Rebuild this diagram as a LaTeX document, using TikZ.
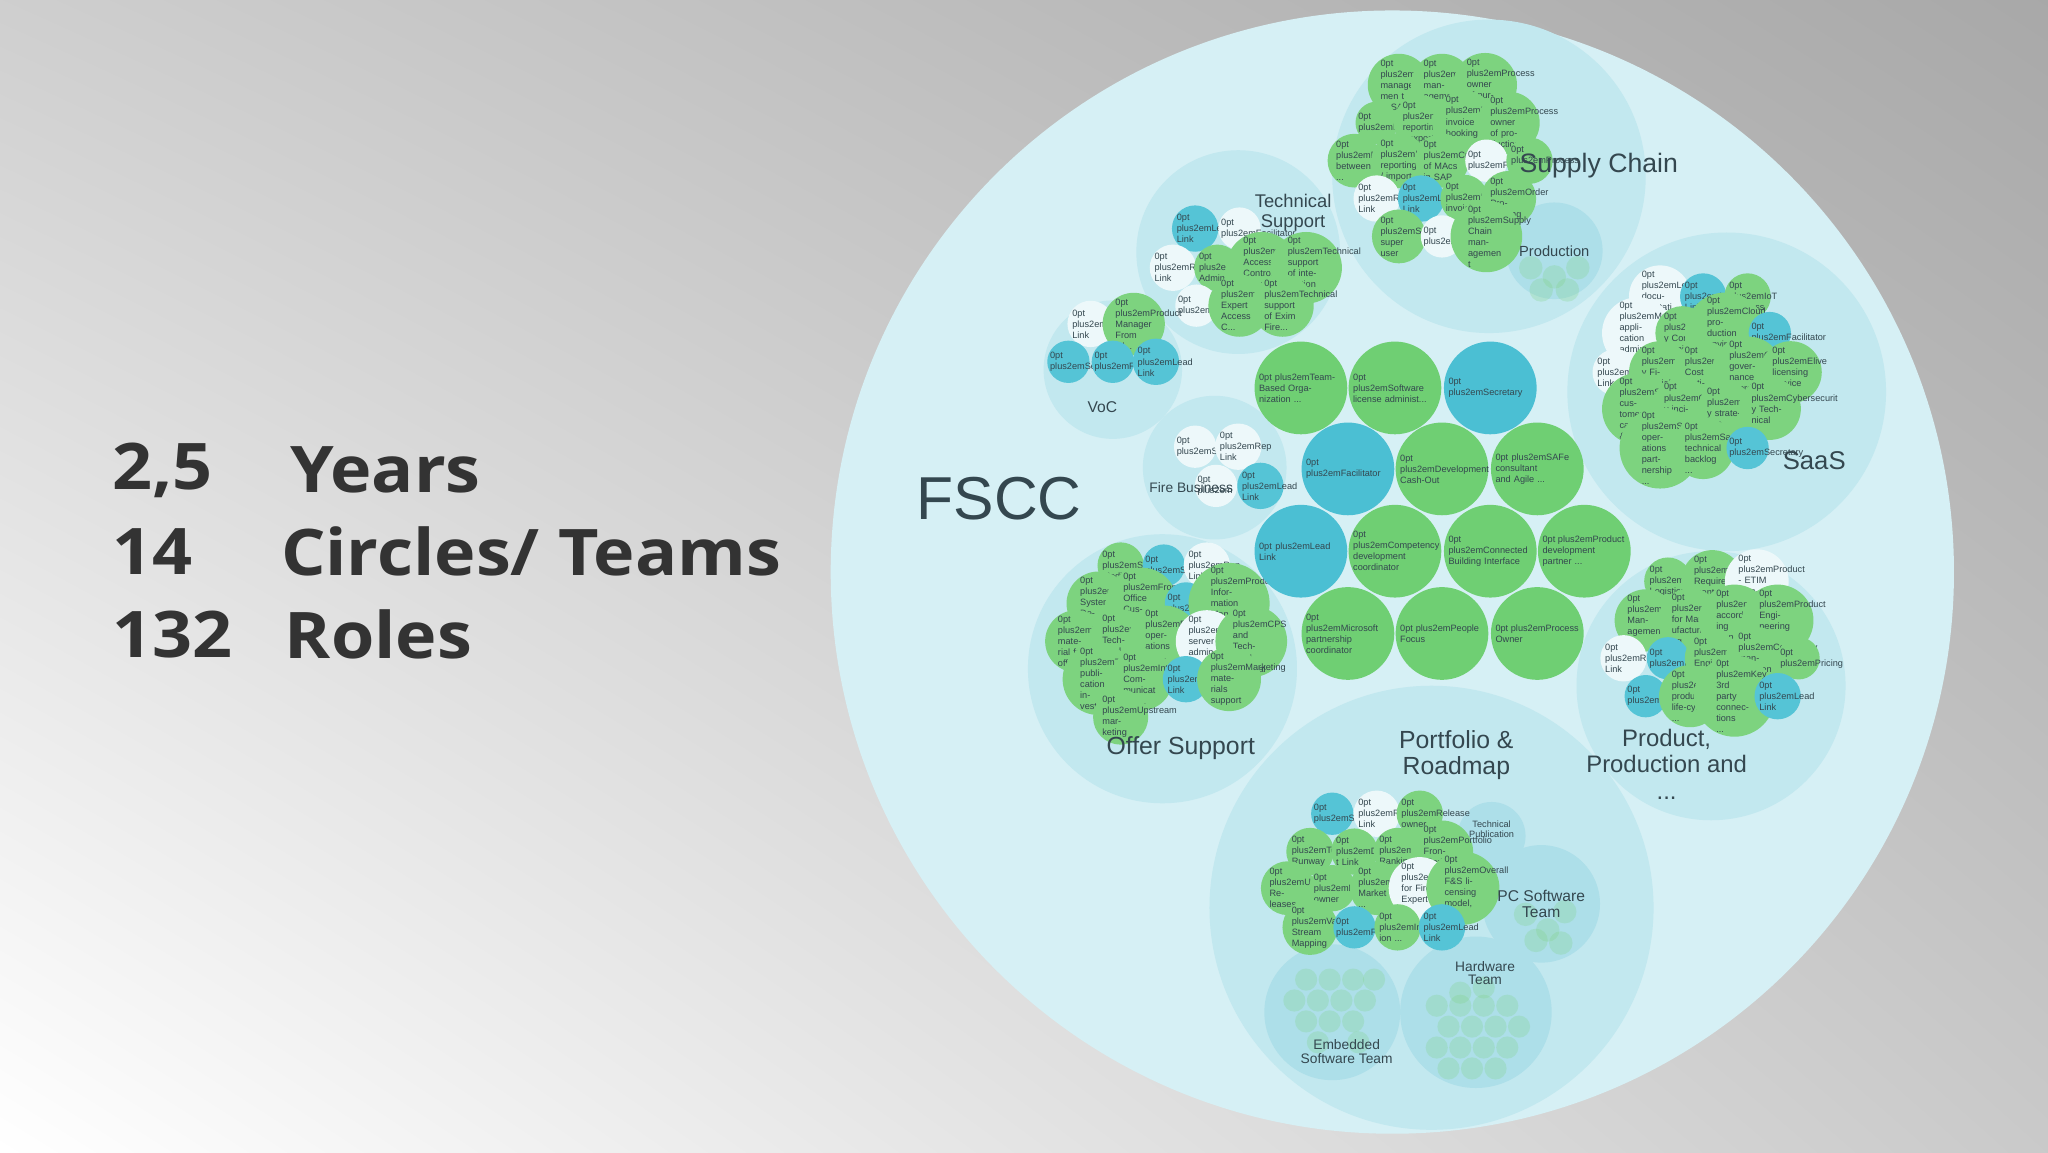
\documentclass[tikz,border=0pt]{standalone}
\usepackage{fontspec}
\usetikzlibrary{shadings}
\setmainfont{Liberation Sans}
\newfontfamily\bigfont[FakeStretch=1.09]{Open Sans}
\definecolor{gr}{HTML}{7DD37F}
\definecolor{bl}{HTML}{55C4D6}
\definecolor{wh}{HTML}{EDF8FA}
\definecolor{cgr}{HTML}{6FCF73}
\definecolor{cbl}{HTML}{4BBFD3}
\definecolor{big}{HTML}{D6F0F5}
\definecolor{sub}{HTML}{C2E8EF}
\definecolor{sub2}{HTML}{ADDFE9}
\definecolor{txt}{HTML}{34474F}
\tikzset{
 sr/.style={circle,inner sep=0pt,minimum size=1.62cm,text width=1.4cm,align=center,text=txt,font=\hyphenpenalty=10000\fontsize{5.4}{5.8}\selectfont},
 g/.style={sr,fill=gr},
 b/.style={sr,fill=bl},
 w/.style={sr,fill=wh},
 cr/.style={circle,inner sep=0pt,minimum size=3.55cm,text width=3.2cm,align=center,text=txt,font=\hyphenpenalty=10000\fontsize{13}{13.5}\selectfont},
 cg/.style={cr,fill=cgr},
 cb/.style={cr,fill=cbl},
 subc/.style={fill=sub},
 lab/.style={text=txt,align=center,inner sep=0pt},
 faint/.style={circle,fill=gr,opacity=0.25,minimum size=0.9cm,inner sep=0pt},
 stat/.style={anchor=west,inner sep=0pt,text=black!80,font=\bigfont\bfseries\fontsize{70}{72}\selectfont}
}
\begin{document}
\begin{tikzpicture}[x=0.05cm,y=-0.05cm]
\useasboundingbox (0,0) rectangle (1568,882);
\shade[upper left=gray!38,upper right=gray!68,lower left=white,lower right=gray!42] (0,0) rectangle (1568,882);
% left stats
\node[stat] (n1) at (86,360) {2,5};
\node[stat] (t1) at (222,360) {Years};
\node[stat] (n2) at (86,422) {14};
\node[stat] (t2) at (215,422) {Circles/ Teams};
\node[stat] (n3) at (86,486) {132};
\node[stat] (t3) at (218,486) {Roles};
% big circle
\fill[big] (1066,438) circle (430);
\node[lab,font=\fontsize{66}{66}\selectfont] (fscc) at (765,382) {FSCC};
% sub circles
\fill[subc] (1140,135) circle (120);
\fill[subc] (948,193) circle (78);
\fill[subc] (852,283) circle (53);
\fill[subc] (930,358) circle (55);
\fill[subc] (890,512) circle (103);
\fill[subc] (1322,300) circle (122);
\fill[subc] (1310,525) circle (103);
\fill[subc] (1096,695) circle (170);
\fill[sub2] (1190,192) circle (37);
\fill[sub2] (1180,692) circle (45);
\fill[sub2] (1142,640) circle (26);
\fill[sub2] (1130,775) circle (58);
\fill[sub2] (1020,775) circle (52);
% faint clusters
\foreach \x/\y [count=\i] in {1172/205,1190/212,1208/205,1180/222,1200/222}{\node[faint] (pf\i) at (\x,\y) {};}
\foreach \x/\y [count=\i] in {1168/700,1185/712,1198/698,1176/720,1195/722}{\node[faint] (pc\i) at (\x,\y) {};}
\foreach \x/\y [count=\i] in {1100/770,1118/770,1136/770,1154/770,1109/786,1127/786,1145/786,1163/786,1100/802,1118/802,1136/802,1154/802,1109/818,1127/818,1145/818,1118/760,1136/756}{\node[faint,minimum size=0.85cm] (hw\i) at (\x,\y) {};}
\foreach \x/\y [count=\i] in {1000/750,1018/750,1036/750,1052/750,991/766,1009/766,1027/766,1045/766,1000/782,1018/782,1036/782,1009/798,1040/798}{\node[faint,minimum size=0.85cm] (em\i) at (\x,\y) {};}
% Supply chain
\node[g] (sc1) at (1071,65) {Product managemen t in SAP};
\node[g] (sc2) at (1104,65) {Production managemen t};
\node[g] (sc3) at (1137,65) {Process owner of purchasing};
\node[g] (sc4) at (1054,94) {Purchasing};
\node[g] (sc5) at (1088,94) {Intrastat reporting / export};
\node[g] (sc6) at (1121,94) {Foreign invoice booking | ...};
\node[g] (sc7) at (1155,94) {Process owner of production};
\node[g] (sc8) at (1037,123) {Relationship between ...};
\node[g] (sc9) at (1071,123) {Intrastat reporting / import};
\node[g] (sc10) at (1104,123) {Custody of MAcs in SAP};
\node[w] (sc11) at (1138,123) {Facilitator};
\node[g] (sc12) at (1171,123) {Process ...};
\node[w] (sc13) at (1054,152) {Rep Link};
\node[b] (sc14) at (1088,152) {Lead Link};
\node[g] (sc15) at (1121,152) {License invoicing};
\node[g] (sc16) at (1155,152) {Order Processing};
\node[g] (sc17) at (1071,181) {SAP super user};
\node[w] (sc18) at (1104,181) {Secretary};
\node[g] (sc19) at (1138,181) {Supply Chain managemen t};
\node[lab,font=\fontsize{29}{29}\selectfont] (scl) at (1224,127) {Supply Chain};
\node[lab,font=\fontsize{16}{16}\selectfont] (prl) at (1190,192) {Production};
% Technical support
\node[b] (ts1) at (915,175) {Lead Link};
\node[w] (ts2) at (949,175) {Facilitator};
\node[w] (ts3) at (898,205) {Rep Link};
\node[g] (ts4) at (932,205) {RFO Admin};
\node[g] (ts5) at (966,205) {Expert Access Control technical ...};
\node[g] (ts6) at (1000,205) {Technical support of integration ...};
\node[w] (ts7) at (916,234) {Secretary};
\node[g] (ts8) at (949,234) {Security Expert Access C...};
\node[g] (ts9) at (982,234) {Technical support of Exim Fire...};
\node[lab,font=\fontsize{20}{22}\selectfont] (tsl) at (990,163) {Technical\\Support};
% VoC
\node[w] (v1) at (835,248) {Rep Link};
\node[g] (v2) at (868,248) {Product Manager From Ol...};
\node[b] (v3) at (818,277) {Secretary};
\node[b] (v4) at (852,277) {Facilitator};
\node[b] (v5) at (885,277) {Lead Link};
\node[lab,font=\fontsize{17}{17}\selectfont] (vl) at (844,312) {VoC};
% Fire business
\node[w] (f1) at (915,342) {Secretary};
\node[w] (f2) at (948,342) {Rep Link};
\node[w] (f4) at (931,372) {};
\node[b] (f3) at (965,372) {Lead Link};
\node[lab,font=\fontsize{15}{15}\selectfont] (fl) at (912,373) {Fire Business};
% SaaS
\node[w] (sa1) at (1271,227) {Legal documentati on ...};
\node[b] (sa2) at (1304,227) {Lead Link};
\node[g] (sa3) at (1338,227) {IoT Wireless};
\node[w] (sa4) at (1254,255) {Mobile application administr...};
\node[g] (sa5) at (1288,255) {Cybersecurit y Communic...};
\node[g] (sa6) at (1321,255) {Cloud production environment ...};
\node[b] (sa7) at (1355,255) {Facilitator};
\node[w] (sa8) at (1237,285) {Rep Link};
\node[g] (sa9) at (1271,285) {Cybersecurit y Financial ...};
\node[g] (sa10) at (1304,285) {Azure Cost Optimizer};
\node[g] (sa11) at (1338,285) {Cloud governance coordinator};
\node[g] (sa12) at (1371,285) {Elive licensing service ...};
\node[g] (sa13) at (1254,313) {SaaS customer care \& t...};
\node[g] (sa14) at (1288,313) {Cybersecurit y incident ...};
\node[g] (sa15) at (1321,313) {Cybersecurit y strategist};
\node[g] (sa16) at (1355,313) {Cybersecurit y Technical ...};
\node[g] (sa17) at (1271,343) {SaaS operations partnership ...};
\node[g] (sa18) at (1304,343) {SaaS technical backlog ...};
\node[b] (sa19) at (1338,343) {Secretary};
\node[lab,font=\fontsize{28}{28}\selectfont] (sal) at (1389,353) {SaaS};
% Offer support
\node[g] (o1) at (858,433) {Social Media};
\node[b] (o2) at (891,433) {Secretary};
\node[w] (o3) at (924,433) {Rep Link};
\node[g] (o4) at (841,462) {Support System Designers};
\node[g] (o5) at (874,462) {Front-Office Customer ...};
\node[b] (o6) at (908,462) {Facilitator};
\node[g] (o7) at (941,462) {Product Information Managemen t ...};
\node[g] (o8) at (824,491) {Technical material for offer ...};
\node[g] (o9) at (858,491) {Integration Technical Support};
\node[g] (o10) at (891,491) {Business operations communic...};
\node[w] (o11) at (924,491) {External server administ...};
\node[g] (o12) at (958,491) {CPS and Technical material};
\node[g] (o13) at (841,520) {Technical publication investa...};
\node[g] (o14) at (874,520) {Internal Communicat ion ...};
\node[b] (o15) at (908,520) {Lead Link};
\node[g] (o16) at (941,520) {Marketing materials support};
\node[g] (o17) at (858,549) {Upstream marketing};
\node[lab,font=\fontsize{27}{27}\selectfont] (ol) at (904,573) {Offer Support};
% Product, Production
\node[g] (p1) at (1277,445) {Purchasing Logistics};
\node[g] (p2) at (1311,445) {Production Requirementati on};
\node[w] (p3) at (1345,445) {Product - ETIM categorizer};
\node[g] (p4) at (1260,475) {Quality Managemen t};
\node[g] (p5) at (1294,475) {Design for Manufacturi ng};
\node[g] (p6) at (1328,475) {Design according standards};
\node[g] (p7) at (1361,475) {Product Engineering for 3rd ...};
\node[w] (p8) at (1243,504) {Rep Link};
\node[b] (p9) at (1277,504) {Facilitator};
\node[g] (p10) at (1311,504) {Compliance Engineering};
\node[g] (p11) at (1345,504) {Conformity managemen t};
\node[g] (p12) at (1377,504) {Pricing};
\node[b] (p13) at (1260,533) {Secretary};
\node[g] (p14) at (1294,533) {Internal product life-cycle ...};
\node[g] (p15) at (1328,533) {Key 3rd party connections ...};
\node[b] (p16) at (1361,533) {Lead Link};
\node[lab,font=\fontsize{26}{29}\selectfont,anchor=north] (pl) at (1276,558) {Product,\\Production and\\...};
% Portfolio
\node[b] (r1) at (1020,623) {Secretary};
\node[w] (r2) at (1054,623) {Rep Link};
\node[g] (r3) at (1087,623) {Release owner};
\node[g] (r4) at (1003,652) {Technology Runway};
\node[g] (r5) at (1037,652) {Developmen t Link};
\node[g] (r6) at (1070,652) {Defect Ranking};
\node[g] (r7) at (1104,652) {Portfolio FrontEnd owner};
\node[g] (r8) at (986,680) {Upstream Releases};
\node[g] (r9) at (1020,680) {Epic owner};
\node[g] (r10) at (1054,680) {Competitor Market ...};
\node[w] (r11) at (1087,680) {Coordinator for FireExpert ...};
\node[g] (r12) at (1120,680) {Overall F\&S licensing model, p...};
\node[g] (r13) at (1003,710) {Value Stream Mapping};
\node[b] (r14) at (1037,710) {Facilitator};
\node[g] (r15) at (1070,710) {Industrializat ion ...};
\node[b] (r16) at (1104,710) {Lead Link};
\node[lab,font=\fontsize{27}{29}\selectfont] (rl) at (1115,578) {Portfolio \&\\Roadmap};
\node[lab,font=\fontsize{10}{10.5}\selectfont] (tpl) at (1142,635) {Technical\\Publication};
\node[lab,font=\fontsize{17}{17}\selectfont] (pcl) at (1180,692) {PC Software\\Team};
\node[lab,font=\fontsize{15}{15}\selectfont] (hwl) at (1137,745) {Hardware\\Team};
\node[lab,font=\fontsize{15}{15}\selectfont] (eml) at (1031,805) {Embedded\\Software Team};
% central roles
\node[cg] (c1) at (996,297) {Team-Based Organization ...};
\node[cg] (c2) at (1068,297) {Software license administ...};
\node[cb] (c3) at (1141,297) {Secretary};
\node[cb] (c4) at (1032,359) {Facilitator};
\node[cg] (c5) at (1104,359) {Development Cash-Out};
\node[cg] (c6) at (1177,359) {SAFe consultant and Agile ...};
\node[cb] (c7) at (996,422) {Lead Link};
\node[cg] (c8) at (1068,422) {Competency development coordinator};
\node[cg] (c9) at (1141,422) {Connected Building Interface};
\node[cg] (c10) at (1213,422) {Product development partner ...};
\node[cg] (c11) at (1032,485) {Microsoft partnership coordinator};
\node[cg] (c12) at (1104,485) {People Focus};
\node[cg] (c13) at (1177,485) {Process Owner};
\end{tikzpicture}
\end{document}
